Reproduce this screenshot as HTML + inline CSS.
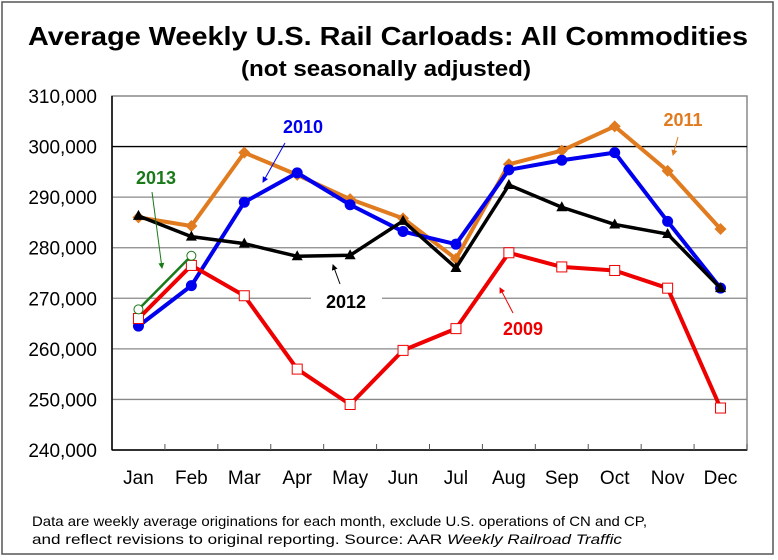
<!DOCTYPE html>
<html><head><meta charset="utf-8"><style>
body{margin:0;background:#fff;}
svg{display:block;font-family:"Liberation Sans",Arial,sans-serif;}
</style></head><body>
<svg id="chart" width="778" height="560" viewBox="0 0 778 560">
<rect x="2" y="2" width="771" height="552" fill="#fff" stroke="#555" stroke-width="1.5"/>
<text x="388" y="45" text-anchor="middle" font-size="26" font-weight="bold" textLength="720" lengthAdjust="spacingAndGlyphs">Average Weekly U.S. Rail Carloads: All Commodities</text>
<text x="386" y="76" text-anchor="middle" font-size="22" font-weight="bold" textLength="290" lengthAdjust="spacingAndGlyphs">(not seasonally adjusted)</text>
<g id="grid"></g><g id="axes"></g>
<rect x="311" y="288" width="71" height="24" fill="#fff"/>
<g id="series"></g>
<g>
<text x="303" y="133" text-anchor="middle" font-size="18" font-weight="bold" fill="#0000ee">2010</text>
<line x1="285" y1="143" x2="263" y2="182" stroke="#0000ee" stroke-width="1" marker-end="url(#ab)"/>
<text x="156" y="184" text-anchor="middle" font-size="18" font-weight="bold" fill="#1a7a1a">2013</text>
<line x1="152" y1="192" x2="162" y2="268" stroke="#1a7a1a" stroke-width="1" marker-end="url(#ag)"/>
<text x="346" y="308" text-anchor="middle" font-size="18" font-weight="bold" fill="#000">2012</text>
<line x1="340" y1="284" x2="333" y2="265" stroke="#000" stroke-width="1" marker-end="url(#ak)"/>
<text x="523" y="335" text-anchor="middle" font-size="18" font-weight="bold" fill="#e00">2009</text>
<line x1="513" y1="313" x2="500" y2="288" stroke="#e00" stroke-width="1" marker-end="url(#ar)"/>
<text x="683" y="126" text-anchor="middle" font-size="18" font-weight="bold" fill="#e07b20">2011</text>
<line x1="678" y1="137" x2="673" y2="155" stroke="#e07b20" stroke-width="1" marker-end="url(#ao)"/>
</g>
<defs>
<marker id="ab" markerWidth="6" markerHeight="6" refX="5" refY="3" orient="auto"><path d="M0,0L6,3L0,6z" fill="#0000ee"/></marker>
<marker id="ag" markerWidth="6" markerHeight="6" refX="5" refY="3" orient="auto"><path d="M0,0L6,3L0,6z" fill="#1a7a1a"/></marker>
<marker id="ak" markerWidth="6" markerHeight="6" refX="5" refY="3" orient="auto"><path d="M0,0L6,3L0,6z" fill="#000"/></marker>
<marker id="ar" markerWidth="6" markerHeight="6" refX="5" refY="3" orient="auto"><path d="M0,0L6,3L0,6z" fill="#e00"/></marker>
<marker id="ao" markerWidth="6" markerHeight="6" refX="5" refY="3" orient="auto"><path d="M0,0L6,3L0,6z" fill="#e07b20"/></marker>
</defs>
<text x="32" y="526" font-size="14" textLength="615" lengthAdjust="spacingAndGlyphs">Data are weekly average originations for each month, exclude U.S. operations of CN and CP,</text>
<text x="32" y="544" font-size="14" textLength="590" lengthAdjust="spacingAndGlyphs">and reflect revisions to original reporting.  Source: AAR <tspan font-style="italic">Weekly Railroad Traffic</tspan></text>
</svg>
<script>
const months=["Jan","Feb","Mar","Apr","May","Jun","Jul","Aug","Sep","Oct","Nov","Dec"];
const yTicks=[240000,250000,260000,270000,280000,290000,300000,310000];
const yTickLabels=["240,000","250,000","260,000","270,000","280,000","290,000","300,000","310,000"];
const s2009=[266000,276500,270500,256000,249000,259700,264000,279000,276200,275500,272000,248300];
const s2010=[264500,272500,289000,294800,288500,283200,280700,295400,297300,298800,285200,272000];
const s2011=[286000,284300,298800,294400,289600,285800,277800,296500,299200,304000,295200,283700];
const s2012=[286300,282200,280800,278300,278500,285300,276000,292400,288000,284600,282700,272000];
const s2013=[267800,278400];
const NS="http://www.w3.org/2000/svg";
const L=112,R=747,T=96,B=450,ymin=240000,ymax=310000;
const xs=i=>L+(R-L)/12*(i+0.5);
const ys=v=>B-(v-ymin)/(ymax-ymin)*(B-T);
function mk(tag,attrs,parent){const e=document.createElementNS(NS,tag);for(const k in attrs)e.setAttribute(k,attrs[k]);parent.appendChild(e);return e;}
const grid=document.getElementById('grid'),axes=document.getElementById('axes'),ser=document.getElementById('series');
mk('rect',{x:L,y:T,width:R-L,height:B-T,fill:'#fff',stroke:'#888','stroke-width':1.5},grid);
yTicks.forEach((v,i)=>{
  if(i>0&&i<yTicks.length-1){const g=mk('line',{x1:L,x2:R,y1:ys(v),y2:ys(v),stroke:v===300000?'#000':'#888','stroke-width':1.3},grid);
  
  }
  const t=mk('text',{x:97,y:ys(v)+7,'text-anchor':'end','font-size':19},axes);t.textContent=yTickLabels[i];
  
  
});
mk('line',{x1:L,x2:R,y1:B,y2:B,stroke:'#000','stroke-width':1.5},axes);
mk('line',{x1:L,x2:L,y1:T,y2:B,stroke:'#000','stroke-width':1.5},axes);
months.forEach((m,i)=>{
  mk('line',{x1:L+(R-L)/12*(i+1),x2:L+(R-L)/12*(i+1),y1:B,y2:B-6,stroke:'#555'},axes);
  const t=mk('text',{x:xs(i),y:484,'text-anchor':'middle','font-size':19},axes);t.textContent=m;
  
  
});
function series(data,color,name,marker,w){
  const g=mk('g',{},ser);
  
  
  mk('polyline',{points:data.map((v,i)=>xs(i)+','+ys(v)).join(' '),fill:'none',stroke:color,'stroke-width':w,'stroke-linejoin':'round'},g);
  data.forEach((v,i)=>{
    const x=xs(i),y=ys(v);let p;
    if(marker==='sq')p=mk('rect',{x:x-5,y:y-5,width:10,height:10,fill:'#fff',stroke:color,'stroke-width':1},g);
    else if(marker==='dot')p=mk('circle',{cx:x,cy:y,r:5.5,fill:color},g);
    else if(marker==='dia')p=mk('path',{d:`M${x},${y-6}L${x+6},${y}L${x},${y+6}L${x-6},${y}z`,fill:color},g);
    else if(marker==='tri')p=mk('path',{d:`M${x},${y-6}L${x+5.5},${y+4}L${x-5.5},${y+4}z`,fill:color},g);
    else p=mk('circle',{cx:x,cy:y,r:4.5,fill:'#fff',stroke:color,'stroke-width':1},g);
    
    
  });
}
series(s2011,'#e07b20','series-2011','dia',4);
series(s2010,'#0000ee','series-2010','dot',4);
series(s2012,'#000','series-2012','tri',3.5);
series(s2009,'#ee0000','series-2009','sq',4);
series(s2013,'#1a7a1a','series-2013','circ',2.5);
</script>
</body></html>
